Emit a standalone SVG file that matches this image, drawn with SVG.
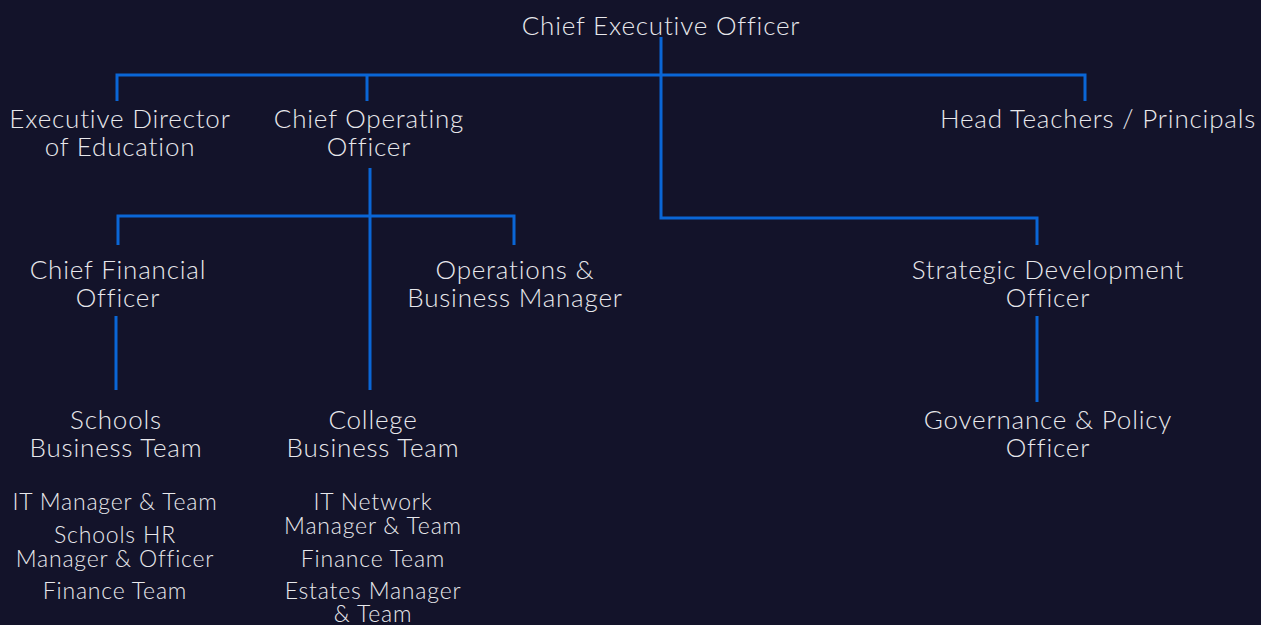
<svg xmlns="http://www.w3.org/2000/svg" width="1261" height="625" viewBox="0 0 1261 625">
  <style>
    .bg { fill: #13132a; }
    .ln { stroke: #0a66d6; stroke-width: 3; fill: none; }
    .t { font-family: "Lato", "Noto Sans", sans-serif; font-weight: 300; fill: #e8e8ec; text-anchor: middle; }
    .big { font-size: 26px; letter-spacing: 0.8px; }
    .sm { font-size: 23px; letter-spacing: 0.8px; }
  </style>
  <rect class="bg" width="1261" height="625"/>

  <g id="connectors">
    <path class="ln" d="M661 37 V218 H1037 V245"/>
    <path class="ln" d="M117 101 V75 H1085 V101"/>
    <path class="ln" d="M367 75 V101"/>
    <path class="ln" d="M370 168 V390"/>
    <path class="ln" d="M118 245 V216 H514 V245"/>
    <path class="ln" d="M116 316 V390"/>
    <path class="ln" d="M1037 316 V402"/>
  </g>

  <g id="ceo"><text class="t big" x="661" y="35">Chief Executive Officer</text></g>
  <g id="exec-director"><text class="t big" x="120" y="128">Executive Director</text><text class="t big" x="120" y="156">of Education</text></g>
  <g id="coo"><text class="t big" x="369" y="128">Chief Operating</text><text class="t big" x="369" y="156">Officer</text></g>
  <g id="head-teachers"><text class="t big" x="1098" y="128">Head Teachers / Principals</text></g>
  <g id="cfo"><text class="t big" x="118" y="279">Chief Financial</text><text class="t big" x="118" y="307">Officer</text></g>
  <g id="ops-manager"><text class="t big" x="515" y="279">Operations &amp;</text><text class="t big" x="515" y="307">Business Manager</text></g>
  <g id="sdo"><text class="t big" x="1048" y="279">Strategic Development</text><text class="t big" x="1048" y="307">Officer</text></g>
  <g id="governance"><text class="t big" x="1048" y="429">Governance &amp; Policy</text><text class="t big" x="1048" y="457">Officer</text></g>
  <g id="schools-team">
    <text class="t big" x="116" y="429">Schools</text><text class="t big" x="116" y="457">Business Team</text>
    <text class="t sm" x="115" y="510">IT Manager &amp; Team</text>
    <text class="t sm" x="115" y="543">Schools HR</text><text class="t sm" x="115" y="567">Manager &amp; Officer</text>
    <text class="t sm" x="115" y="599">Finance Team</text>
  </g>
  <g id="college-team">
    <text class="t big" x="373" y="429">College</text><text class="t big" x="373" y="457">Business Team</text>
    <text class="t sm" x="373" y="510">IT Network</text><text class="t sm" x="373" y="534">Manager &amp; Team</text>
    <text class="t sm" x="373" y="567">Finance Team</text>
    <text class="t sm" x="373" y="599">Estates Manager</text><text class="t sm" x="373" y="622">&amp; Team</text>
  </g>
</svg>
